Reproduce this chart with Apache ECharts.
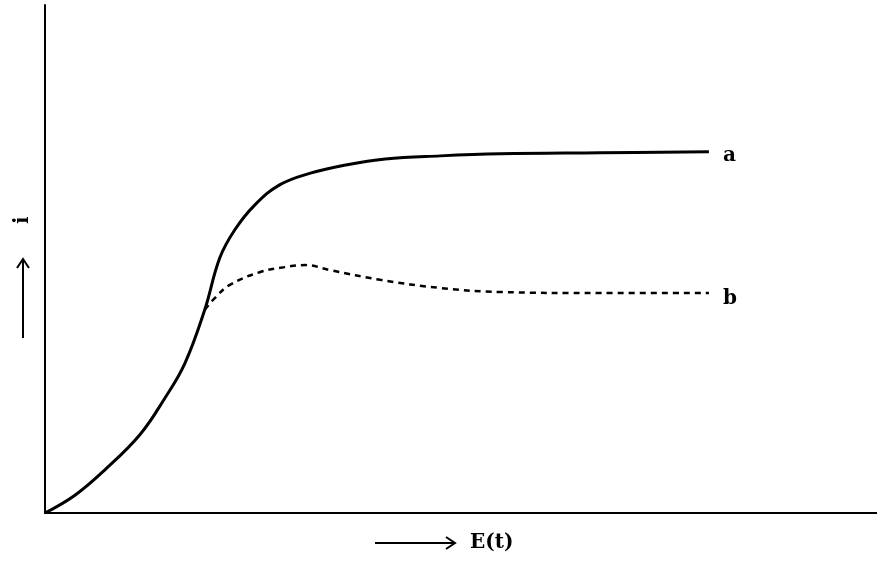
<!DOCTYPE html>
<html><head><meta charset="utf-8">
<script src="https://cdn.jsdelivr.net/npm/echarts@6/dist/echarts.min.js"></script>
<style>html,body{margin:0;padding:0;background:#fff}#c{width:877px;height:561px}</style>
</head><body><div id="c"></div>
<script>
const curveA = [[0,0],[3.6,3.5],[7.2,8.5],[11.4,15.4],[14.4,22.6],[16.8,29.4],[19.2,40.0],[21.0,50.2],[22.8,55.7],[25.2,60.6],[28.2,64.6],[31.9,66.9],[36.1,68.5],[40.9,69.7],[47.5,70.3],[54.7,70.7],[66.7,70.9],[79.8,71.1]];
const curveB = [[19.2,40.0],[20.4,42.3],[22.2,44.9],[25.8,47.4],[28.8,48.4],[31.3,48.8],[34.3,47.8],[40.3,45.9],[47.5,44.3],[54.7,43.5],[66.7,43.3],[79.8,43.3]];
const labelA = 'a', labelB = 'b';
const xName = 'E(t)', yName = 'i';
const font = '"DejaVu Serif", serif';
const chart = echarts.init(document.getElementById('c'));
chart.setOption({
  animation:false,
  grid:{left:45,right:0,top:5,bottom:48},
  xAxis:{type:'value',min:0,max:100,axisLine:{lineStyle:{color:'#000',width:2}},axisTick:{show:false},axisLabel:{show:false},splitLine:{show:false}},
  yAxis:{type:'value',min:0,max:100,axisLine:{lineStyle:{color:'#000',width:2}},axisTick:{show:false},axisLabel:{show:false},splitLine:{show:false}},
  graphic:[
    {type:'line',shape:{x1:375,y1:543,x2:454,y2:543},style:{stroke:'#000',lineWidth:2}},
    {type:'polyline',shape:{points:[[446,537],[455,543],[446,549]]},style:{stroke:'#000',lineWidth:2,fill:null}},
    {type:'text',left:470,top:533,style:{text:xName,font:'bold 20px '+font,fill:'#000'}},
    {type:'line',shape:{x1:23,y1:338,x2:23,y2:260},style:{stroke:'#000',lineWidth:2}},
    {type:'polyline',shape:{points:[[17,268],[23,259],[29,268]]},style:{stroke:'#000',lineWidth:2,fill:null}},
    {type:'text',x:13,y:224,rotation:Math.PI/2,style:{text:yName,font:'bold 20px '+font,fill:'#000'}}
  ],
  series:[
    {type:'line',data:curveA,smooth:0.4,symbol:'none',lineStyle:{color:'#000',width:3},
     endLabel:{show:true,formatter:labelA,color:'#000',fontFamily:font,fontWeight:'bold',fontSize:20,distance:14,offset:[0,4]}},
    {type:'line',data:curveB,smooth:0.4,symbol:'none',lineStyle:{color:'#000',width:2.5,type:[6,5]},
     endLabel:{show:true,formatter:labelB,color:'#000',fontFamily:font,fontWeight:'bold',fontSize:20,distance:14,offset:[0,6]}}
  ]
});
</script></body></html>
